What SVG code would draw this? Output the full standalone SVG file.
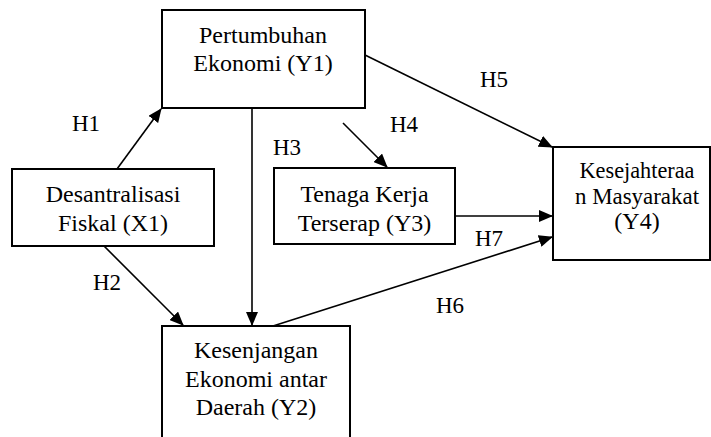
<svg xmlns="http://www.w3.org/2000/svg" width="711" height="437" viewBox="0 0 711 437">
<defs>
<marker id="ah" markerUnits="userSpaceOnUse" markerWidth="14" markerHeight="12" refX="13" refY="6" orient="auto">
<path d="M0,0 L14,6 L0,12 z" fill="#000"/>
</marker>
<style>
.box{fill:#fff;stroke:#000;stroke-width:2}
text{font-family:'Liberation Serif','DejaVu Serif',serif}
.t{font-size:24px;fill:#000;text-anchor:middle}
.lab{font-size:23px;fill:#000}
.c{fill:none;stroke:#000;stroke-width:1.6;marker-end:url(#ah)}
</style>
</defs>
<rect width="711" height="437" fill="#fff"/>
<g id="connectors">
<line class="c" x1="117" y1="169" x2="161" y2="109"/>
<line class="c" x1="252" y1="100" x2="252" y2="325"/>
<line class="c" x1="95" y1="237" x2="183" y2="325"/>
<line class="c" x1="343" y1="123" x2="387" y2="167"/>
<line class="c" x1="365" y1="55" x2="552" y2="147"/>
<line class="c" x1="455" y1="216" x2="552" y2="216"/>
<line class="c" x1="273" y1="326" x2="552" y2="237"/>
<text class="lab" x="72" y="131">H1</text>
<text class="lab" x="93" y="290">H2</text>
<text class="lab" x="273" y="155">H3</text>
<text class="lab" x="390" y="132">H4</text>
<text class="lab" x="480" y="87">H5</text>
<text class="lab" x="436" y="313">H6</text>
<text class="lab" x="475" y="246">H7</text>
</g>
<g id="Y1">
<rect class="box" x="162" y="10" width="203" height="98"/>
<text class="t" x="263" y="43">Pertumbuhan</text>
<text class="t" x="263" y="71">Ekonomi (Y1)</text>
</g>
<g id="X1">
<rect class="box" x="12" y="169" width="202" height="77"/>
<text class="t" x="113" y="202">Desantralisasi</text>
<text class="t" x="113" y="231">Fiskal (X1)</text>
</g>
<g id="Y3">
<rect class="box" x="274" y="168" width="181" height="76"/>
<text class="t" x="364.5" y="202">Tenaga Kerja</text>
<text class="t" x="364.5" y="231">Terserap (Y3)</text>
</g>
<g id="Y4">
<rect class="box" x="553" y="147" width="157" height="113"/>
<text class="t" x="637" y="178" textLength="115" lengthAdjust="spacingAndGlyphs">Kesejahteraa</text>
<text class="t" x="637" y="204" textLength="124" lengthAdjust="spacingAndGlyphs">n Masyarakat</text>
<text class="t" x="637" y="229">(Y4)</text>
</g>
<g id="Y2">
<rect class="box" x="162" y="326" width="188" height="120"/>
<text class="t" x="256" y="358">Kesenjangan</text>
<text class="t" x="256" y="387">Ekonomi antar</text>
<text class="t" x="256" y="415">Daerah (Y2)</text>
</g>
</svg>
